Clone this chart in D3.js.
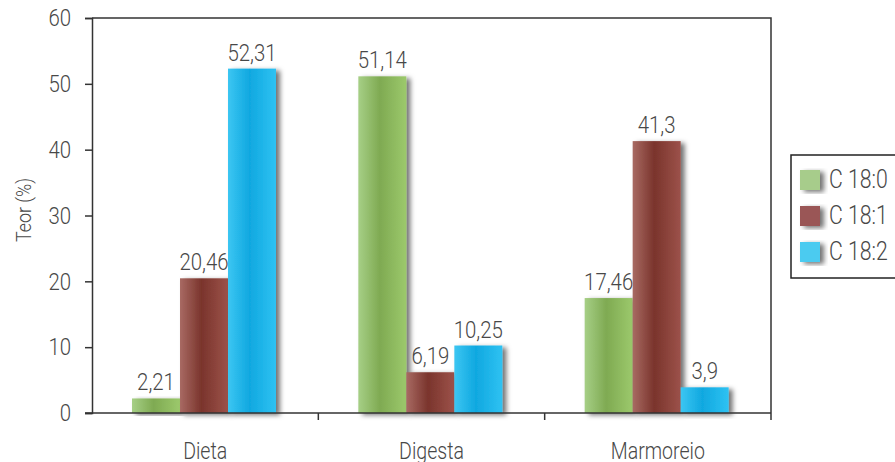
<!DOCTYPE html>
<html>
<head>
<meta charset="utf-8">
<script src="https://cdn.jsdelivr.net/npm/d3@7"></script>
<style>
  body { margin: 0; background: #fff; }
  svg text { font-family: "Roboto", "Liberation Sans Narrow", sans-serif; font-weight: 300; fill: #484848; }
</style>
</head>
<body>
<div id="chart"></div>
<script>
const categories = ["Dieta", "Digesta", "Marmoreio"]
const series = ["C 18:0", "C 18:1", "C 18:2"]
const values = {
  "C 18:0": [2.21, 51.14, 17.46],
  "C 18:1": [20.46, 6.19, 41.3],
  "C 18:2": [52.31, 10.25, 3.9]
}
const valueLabels = {
  "C 18:0": ["2,21", "51,14", "17,46"],
  "C 18:1": ["20,46", "6,19", "41,3"],
  "C 18:2": ["52,31", "10,25", "3,9"]
}
const yTicks = [0, 10, 20, 30, 40, 50, 60]

const colors = {
  "C 18:0": ["#a6cf86", "#7faa52", "#9cc96c"],
  "C 18:1": ["#a86a63", "#7a342c", "#9c524a"],
  "C 18:2": ["#3cc6f2", "#10a8e0", "#2fc2f2"]
}
const legendColors = { "C 18:0": "#a7cc8b", "C 18:1": "#9a5656", "C 18:2": "#4bcbf0" }

const width = 895, height = 462
const mLeft = 92, mRight = 771, mTop = 18, mBottom = 413
const squeeze = 0.85  // the original uses a condensed face

const svg = d3.select("#chart").append("svg")
  .attr("width", width)
  .attr("height", height)

const defs = svg.append("defs")
defs.append("filter")
    .attr("id", "shadow")
    .attr("x", "-20%").attr("y", "-10%")
    .attr("width", "160%").attr("height", "130%")
  .append("feDropShadow")
    .attr("dx", 4).attr("dy", 2)
    .attr("stdDeviation", 2.5)
    .attr("flood-color", "#000")
    .attr("flood-opacity", 0.55)

series.forEach((s, i) => {
  const grad = defs.append("linearGradient")
    .attr("id", "g" + i)
    .attr("x1", "0").attr("y1", "0").attr("x2", "1").attr("y2", "0")
  grad.append("stop").attr("offset", "0%").attr("stop-color", colors[s][0])
  grad.append("stop").attr("offset", "45%").attr("stop-color", colors[s][1])
  grad.append("stop").attr("offset", "100%").attr("stop-color", colors[s][2])
})

const fx = d3.scaleBand()
  .domain(categories)
  .range([mLeft, mRight])

const fs = d3.scaleBand()
  .domain(series)
  .range([40, 40 + 48 * 3])

const fy = d3.scaleLinear()
  .domain([0, 60])
  .range([mBottom, mTop])

const place = (x, y) => `translate(${x},${y}) scale(${squeeze},1)`

// plot border (top and right)
svg.append("path")
  .attr("d", `M${mLeft},${mTop}H${mRight}V${mBottom}`)
  .attr("fill", "none")
  .attr("stroke", "#333")
  .attr("stroke-width", 1.5)

// bars
const groups = svg.append("g")
  .selectAll("g")
  .data(series)
  .join("g")
    .attr("fill", (d, i) => `url(#g${i})`)

const rows = s => categories.map((c, j) => ({ s, c, v: values[s][j], label: valueLabels[s][j] }))

groups.selectAll("rect")
  .data(rows)
  .join("rect")
    .attr("x", d => fx(d.c) + fs(d.s))
    .attr("y", d => fy(d.v))
    .attr("width", fs.bandwidth())
    .attr("height", d => fy(0) - fy(d.v))
    .attr("filter", "url(#shadow)")

groups.selectAll("text")
  .data(rows)
  .join("text")
    .attr("transform", d => place(fx(d.c) + fs(d.s) + fs.bandwidth() / 2, fy(d.v) - 8))
    .attr("text-anchor", "middle")
    .attr("font-size", 24)
    .text(d => d.label)

// y axis
const gy = svg.append("g")
  .attr("transform", `translate(${mLeft},0)`)
  .call(d3.axisLeft(fy).tickValues(yTicks).tickSize(7).tickPadding(14))
gy.select(".domain").attr("stroke", "#333").attr("stroke-width", 1.5)
gy.selectAll(".tick line").attr("stroke", "#333").attr("stroke-width", 1.5)
gy.selectAll(".tick text")
  .attr("font-size", 24).attr("font-family", null).attr("fill", null)
  .attr("x", -21 / squeeze)
  .attr("transform", `scale(${squeeze},1)`)

// x axis
const gx = svg.append("g")
  .attr("transform", `translate(0,${mBottom})`)
gx.append("line")
  .attr("x1", mLeft - 7).attr("x2", mRight)
  .attr("stroke", "#333").attr("stroke-width", 1.5)
gx.selectAll(".sep")
  .data(categories)
  .join("line")
    .attr("class", "sep")
    .attr("x1", d => fx(d) + fx.bandwidth())
    .attr("x2", d => fx(d) + fx.bandwidth())
    .attr("y1", 0).attr("y2", 7)
    .attr("stroke", "#333").attr("stroke-width", 1.5)
gx.selectAll(".lab")
  .data(categories)
  .join("text")
    .attr("class", "lab")
    .attr("transform", d => place(fx(d) + fx.bandwidth() / 2, 46))
    .attr("text-anchor", "middle")
    .attr("font-size", 23)
    .text(d => d)

svg.append("text")
  .attr("transform", `translate(31,210) rotate(-90) scale(${squeeze},1)`)
  .attr("text-anchor", "middle")
  .attr("font-size", 21)
  .text("Teor (%)")

// legend
const legend = svg.append("g")
  .attr("transform", "translate(791,155)")
legend.append("rect")
  .attr("width", 110).attr("height", 123)
  .attr("fill", "#fff")
  .attr("stroke", "#222").attr("stroke-width", 1.5)
const li = legend.selectAll(".li")
  .data(series)
  .join("g")
    .attr("class", "li")
    .attr("transform", (d, i) => `translate(0,${24 + i * 36})`)
li.append("rect")
  .attr("x", 9).attr("y", -9)
  .attr("width", 20).attr("height", 20)
  .attr("fill", d => legendColors[d])
  .attr("filter", "url(#shadow)")
li.append("text")
  .attr("transform", place(38, 9))
  .attr("font-size", 25)
  .text(d => d)
</script>
</body>
</html>
